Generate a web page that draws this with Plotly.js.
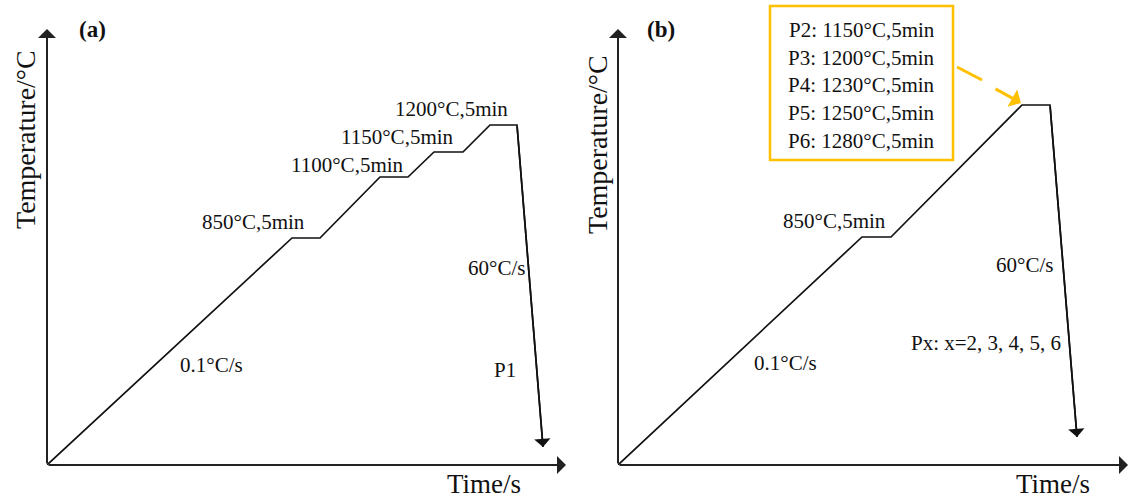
<!DOCTYPE html>
<html>
<head>
<meta charset="utf-8">
<script src="https://cdn.plot.ly/plotly-3.0.1.min.js"></script>
<style>html,body{margin:0;padding:0;background:#fff;}#chart{width:1134px;height:500px;}</style>
</head>
<body>
<div id="chart"></div>
<script>
// Schematic heat-treatment routes (arbitrary time / temperature units)
const timeA = [0, 245, 273, 333, 361, 387, 416, 443, 470, 496];
const tempA = [0, 227, 227, 288, 288, 313, 313, 340, 340, 18];
const timeB = [0, 244, 273, 404, 432, 459];
const tempB = [0, 228, 228, 360, 360, 28];

const axisMaxA = [523, 440];
const axisMaxB = [516, 440];

const labelTextA = ['850°C,5min', '1100°C,5min', '1150°C,5min', '1200°C,5min', '60°C/s', 'P1', '0.1°C/s'];
const labelXA = [206, 300, 350, 404, 449, 458, 164];
const labelYA = [243, 300, 328, 356, 197, 95, 100];

const labelTextB = ['850°C,5min', '60°C/s', '0.1°C/s', 'Px: x=2, 3, 4, 5, 6'];
const labelXB = [216, 406, 167, 368];
const labelYB = [244, 200, 102, 122];

const boxLines = ['P2: 1150°C,5min', 'P3: 1200°C,5min', 'P4: 1230°C,5min', 'P5: 1250°C,5min', 'P6: 1280°C,5min'];
const boxLineY = [435, 407, 380, 352, 324];

const FONT = 'Liberation Serif, Times New Roman, serif';
const ORANGE = '#FFC000';
const W = 1134, H = 500;

const traces = [
  {x: timeA, y: tempA, xaxis: 'x', yaxis: 'y', mode: 'lines', line: {color: '#111', width: 1.7}, hoverinfo: 'skip'},
  {x: timeB, y: tempB, xaxis: 'x2', yaxis: 'y2', mode: 'lines', line: {color: '#111', width: 1.7}, hoverinfo: 'skip'}
];

const ann = [];
function txt(xr, yr, x, y, t, size, extra) {
  ann.push(Object.assign({xref: xr, yref: yr, x: x, y: y, text: t, showarrow: false,
    font: {family: FONT, size: size, color: '#111'}, xanchor: 'center', yanchor: 'middle'}, extra || {}));
}
function ptxt(px, py, t, size, extra) { txt('paper', 'paper', px / W, 1 - py / H, t, size, extra); }
function arrow(xr, yr, x0, y0, x1, y1, color, w, s) {
  ann.push({xref: xr, yref: yr, axref: xr, ayref: yr, x: x1, y: y1, ax: x0, ay: y0, text: '',
    showarrow: true, arrowhead: 1, arrowsize: s || 1.5, arrowwidth: w || 1.8, arrowcolor: color || '#111'});
}
// axes arrows
arrow('x', 'y', 0, 0, axisMaxA[0] - 4, 0, '#222', 2, 1.5);
arrow('x', 'y', 0, 0, 0, axisMaxA[1] - 4, '#222', 2, 1.5);
arrow('x2', 'y2', 0, 0, axisMaxB[0] - 6, 0, '#222', 2, 1.5);
arrow('x2', 'y2', 0, 0, 0, axisMaxB[1] - 4, '#222', 2, 1.5);
// cooling arrows
arrow('x', 'y', timeA[timeA.length - 2], tempA[tempA.length - 2], timeA[timeA.length - 1], tempA[tempA.length - 1], '#111', 1.7, 1.6);
arrow('x2', 'y2', timeB[timeB.length - 2], tempB[tempB.length - 2], timeB[timeB.length - 1], tempB[tempB.length - 1], '#111', 1.7, 1.6);

labelTextA.forEach((t, i) => txt('x', 'y', labelXA[i], labelYA[i], t, 21));
labelTextB.forEach((t, i) => txt('x2', 'y2', labelXB[i], labelYB[i], t, 21));
boxLines.forEach((t, i) => txt('x2', 'y2', 243.5, boxLineY[i], t, 21));

// panel letters & axis titles
ptxt(92, 29, '<b>(a)</b>', 23);
ptxt(661, 29, '<b>(b)</b>', 23);
ptxt(484, 484, 'Time/s', 27);
ptxt(1053, 484, 'Time/s', 27);
ptxt(25, 140, 'Temperature/°C', 28, {textangle: -90});
ptxt(597, 145, 'Temperature/°C', 28, {textangle: -90});

// orange dashed pointer
ann.push({xref: 'x2', yref: 'y2', axref: 'x2', ayref: 'y2', x: 403, y: 362, ax: 376, ay: 377, text: '',
  showarrow: true, arrowhead: 1, arrowsize: 1.1, arrowwidth: 3, arrowcolor: ORANGE});

const shapes = [
  {type: 'rect', xref: 'paper', yref: 'paper', x0: 770 / W, x1: 953 / W, y0: 1 - 160 / H, y1: 1 - 6 / H, line: {color: ORANGE, width: 2.5}, fillcolor: 'rgba(0,0,0,0)'},
  {type: 'line', xref: 'x2', yref: 'y2', x0: 339, y0: 398, x1: 364, y1: 385, line: {color: ORANGE, width: 3}}
];

const ax = {showgrid: false, zeroline: false, showline: false, showticklabels: false, ticks: '', fixedrange: true};
const layout = {
  width: W, height: H,
  margin: {l: 0, r: 0, t: 0, b: 0},
  paper_bgcolor: '#fff', plot_bgcolor: 'rgba(0,0,0,0)',
  showlegend: false,
  xaxis: Object.assign({domain: [47 / W, 570 / W], range: [0, axisMaxA[0]]}, ax),
  yaxis: Object.assign({domain: [35 / H, 475 / H], range: [0, axisMaxA[1]]}, ax),
  xaxis2: Object.assign({domain: [618 / W, 1], range: [0, axisMaxB[0]]}, ax),
  yaxis2: Object.assign({domain: [35 / H, 475 / H], range: [0, axisMaxB[1]]}, ax),
  annotations: ann,
  shapes: shapes
};
Plotly.newPlot('chart', traces, layout, {staticPlot: true, displayModeBar: false});
</script>
</body>
</html>
